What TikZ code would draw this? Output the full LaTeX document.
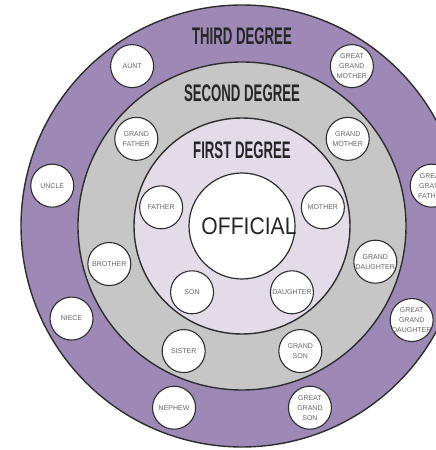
\documentclass[tikz,border=0pt]{standalone}
\usepackage{fontspec}
\setmainfont{Liberation Sans}
\usepackage{graphicx}
\usepackage{tikz}
\usetikzlibrary{calc}
\usepackage{xcolor}

\definecolor{thirdring}{HTML}{9D88B6}
\definecolor{secondring}{HTML}{C6C6C6}
\definecolor{firstring}{HTML}{E4DBE9}
\definecolor{rimline}{HTML}{2E2E2E}
\tikzset{
  ring/.style={draw=rimline, line width=1.4pt},
  reltext/.style={align=center, inner sep=0pt, text=black!60,
    font=\fontsize{7}{10}\selectfont},
  relative/.style={circle, draw=rimline, line width=1.1pt, fill=white,
    minimum size=43pt, inner sep=0pt, label={[reltext]center:#1}},
  degree/.style={inner sep=0pt, text=black!85,
    font=\fontsize{24}{24}\selectfont\bfseries},
}
\newcommand{\narrowtext}[1]{\scalebox{0.55}[1]{#1}}

\begin{document}
\begin{tikzpicture}[x=1pt,y=1pt]
\useasboundingbox (0,0) rectangle (436,450);
\clip (0,0) rectangle (436,450);
\coordinate (c) at (242,224);
% rings
\filldraw [ring, fill=thirdring] (c) circle [radius=221];
\filldraw [ring, fill=secondring] (c) circle [radius=164];
\filldraw [ring, fill=firstring] (c) circle [radius=108];
\filldraw [ring, fill=white, line width=1.2pt] (c) circle [radius=53] node(official){};
\node [text=black!85, font=\fontsize{24}{24}\selectfont] (officialtext) at ($(official)+(7,0)$) {\scalebox{0.88}[1]{OFFICIAL}};
% degree titles
\node [degree] (third) at (242,413.5) {\narrowtext{THIRD DEGREE}};
\node [degree] (second) at (242,356.5) {\narrowtext{SECOND DEGREE}};
\node [degree] (first) at (242,300) {\narrowtext{FIRST DEGREE}};
% first degree
\node [relative={FATHER}] (father) at ($(c)+(167:83)$) {};
\node [relative={MOTHER}] (mother) at ($(c)+(13:83)$) {};
\node [relative={SON}] (son) at ($(c)+(233:83)$) {};
\node [relative={DAUGHTER}] (daughter) at ($(c)+(307:83)$) {};
% second degree
\node [relative={GRAND\\FATHER}] (grandfather) at ($(c)+(140.5:137)$) {};
\node [relative={GRAND\\MOTHER}] (grandmother) at ($(c)+(39.5:137)$) {};
\node [relative={BROTHER}] (brother) at ($(c)+(196:138)$) {};
\node [relative={GRAND\\DAUGHTER}] (granddaughter) at ($(c)+(345:138)$) {};
\node [relative={SISTER}] (sister) at ($(c)+(245:138)$) {};
\node [relative={GRAND\\SON}] (grandson) at ($(c)+(295:138)$) {};
% third degree
\node [relative={AUNT}] (aunt) at ($(c)+(124.5:194)$) {};
\node [relative={GREAT\\GRAND\\MOTHER}] (greatgrandmother) at ($(c)+(55.5:194)$) {};
\node [relative={UNCLE}] (uncle) at ($(c)+(168:194)$) {};
\node [relative={GREAT\\GRAND\\FATHER}] (greatgrandfather) at ($(c)+(12:194)$) {};
\node [relative={NIECE}] (niece) at ($(c)+(208.5:194)$) {};
\node [relative={GREAT\\GRAND\\DAUGHTER}] (greatgranddaughter) at ($(c)+(331:194)$) {};
\node [relative={NEPHEW}] (nephew) at ($(c)+(249.5:194)$) {};
\node [relative={GREAT\\GRAND\\SON}] (greatgrandson) at ($(c)+(290.5:194)$) {};
\end{tikzpicture}
\end{document}
